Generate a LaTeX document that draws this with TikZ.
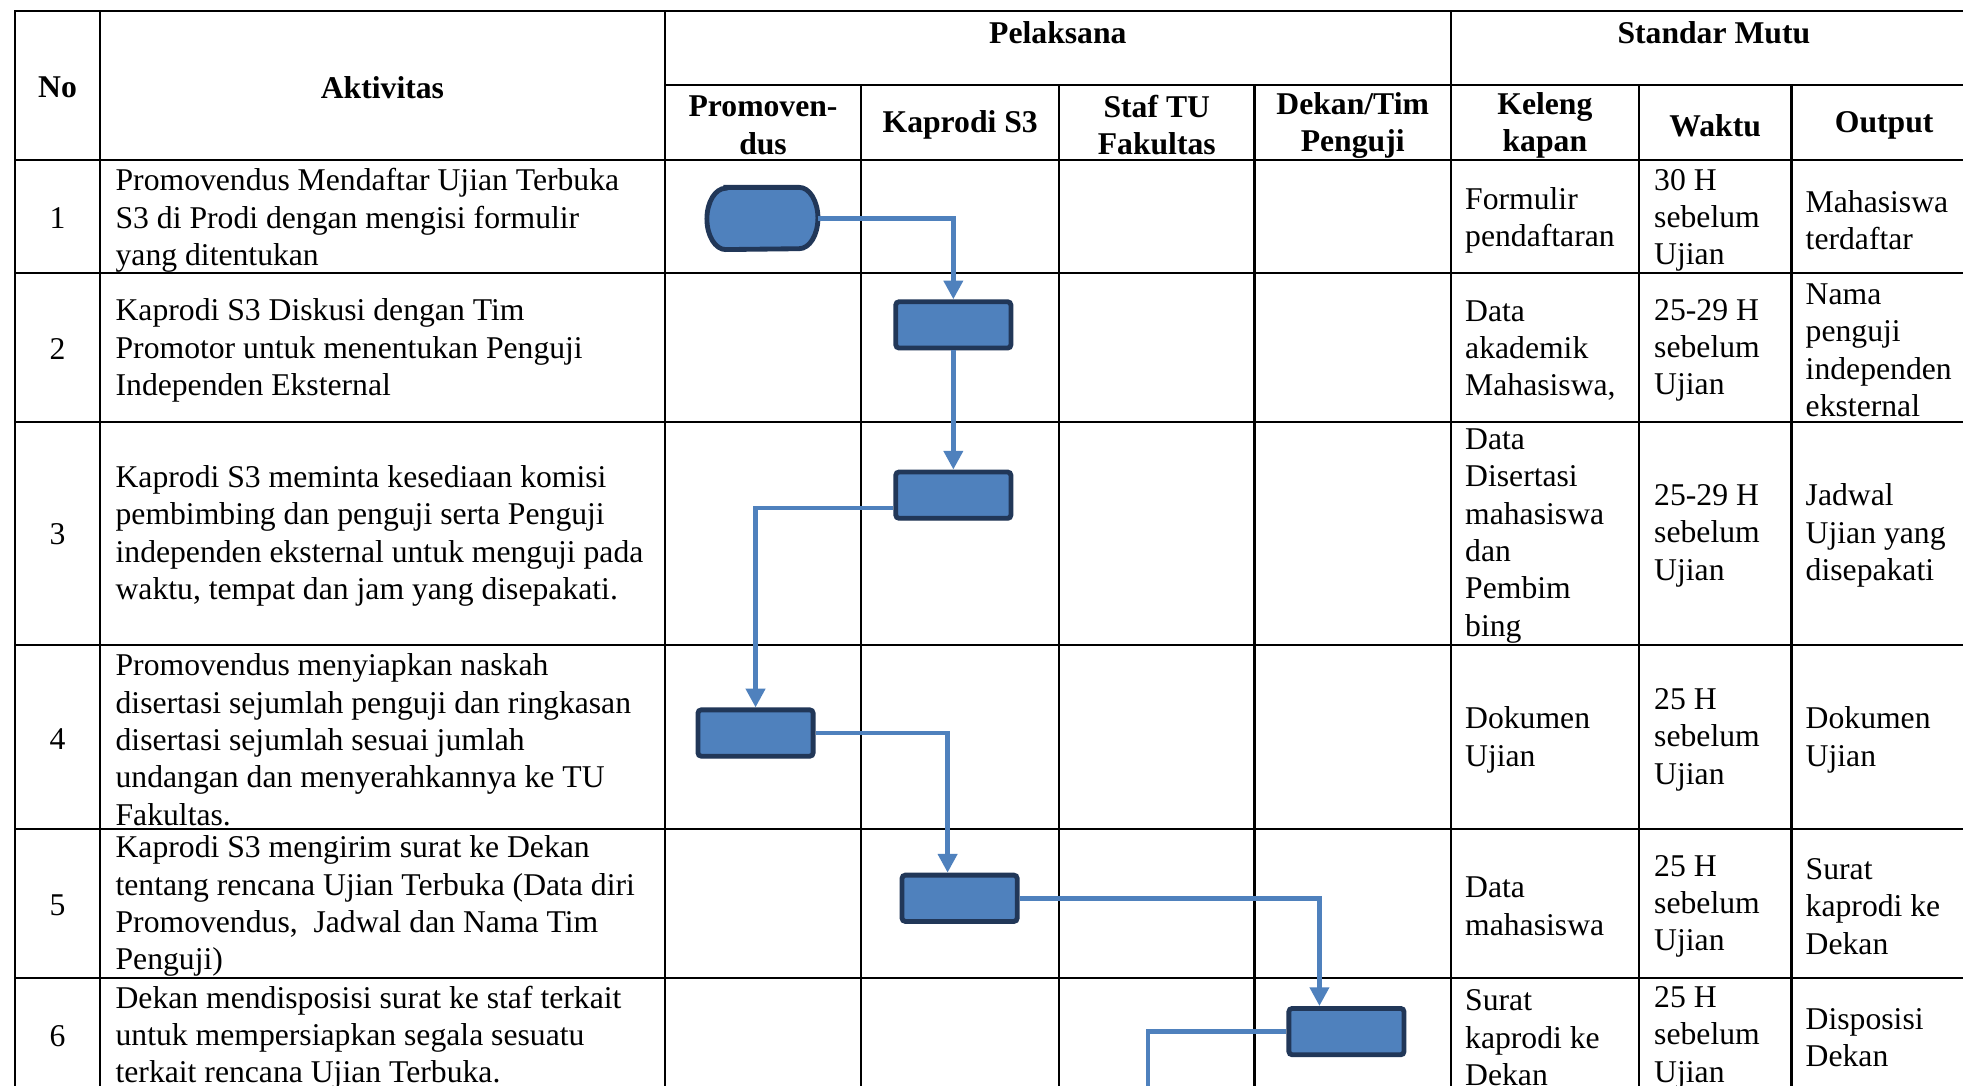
\documentclass[tikz,border=0pt]{standalone}
\usepackage{fontspec}
\setmainfont{Liberation Serif}
\usetikzlibrary{arrows.meta, calc, shadows}
\definecolor{flowc}{RGB}{79,129,189}
\definecolor{edgec}{RGB}{33,55,88}
\definecolor{inkc}{RGB}{0,0,0}
\tikzset{
  tline/.style={draw=inkc, line width=1pt, line cap=rect},
  txt/.style={font=\fontsize{14.4}{17}\selectfont, text=inkc, inner sep=0pt,
              align=left, anchor=west, yshift=-1.1pt},
  hdr/.style={font=\fontsize{14.4}{17}\selectfont\bfseries, text=inkc,
              inner sep=0pt, align=center, yshift=-0.6pt},
  rownum/.style={font=\fontsize{14.4}{17}\selectfont, text=inkc, inner sep=0pt},
  stepbox/.style={rectangle, rounded corners=1.5pt, draw=edgec, line width=2.2pt,
                  fill=flowc, minimum width=1.84cm, minimum height=0.74cm, inner sep=0pt,
                  drop shadow={shadow xshift=0.8pt, shadow yshift=-1pt, opacity=0.25}},
  termshape/.style={draw=edgec, line width=2.2pt, fill=flowc},
  flow/.style={draw=flowc, line width=2.2pt, -{Triangle[length=8.5pt, width=8.5pt]}},
}

\begin{document}
\begin{tikzpicture}[x=0.02cm, y=-0.02cm]

  \useasboundingbox (0,0) rectangle (1568,867);
  \fill[white] (0,0) rectangle (1568,867);
  \clip (0,0) rectangle (1568,867);

  % table rules
  \draw[tline] (12,9) -- (1579,9);
  \draw[tline] (531,68) -- (1579,68);
  \foreach \y in {128,218,337,515,662,781}
    \draw[tline] (12,\y) -- (1579,\y);
  \foreach \x in {12,80,531,1159}
    \draw[tline] (\x,9) -- (\x,880);
  \foreach \x in {688,846,1002,1309,1431}
    \draw[tline] (\x,68) -- (\x,880);

  % headers
  \node[hdr] (hno) at (46,69) {No};
  \node[hdr] (hakt) at (305.5,69) {Aktivitas};
  \node[hdr] (hpel) at (845,25) {Pelaksana};
  \node[hdr] (hstd) at (1369,25) {Standar Mutu};
  \node[hdr] (hpro) at (609.5,99) {Promoven-\\dus};
  \node[hdr] (hkap) at (767,99) {Kaprodi S3};
  \node[hdr] (hstaf) at (924,99) {Staf TU\\Fakultas};
  \node[hdr] (hdek) at (1080.5,99) {Dekan/Tim\\Penguji};
  \node[hdr] (hkel) at (1234,99) {Keleng\\kapan};
  \node[hdr] (hwak) at (1370,99) {Waktu};
  \node[hdr] (hout) at (1505,99) {Output};

  % row numbers
  \node[rownum] (n1) at (46,174) {1};
  \node[rownum] (n2) at (46,279) {2};
  \node[rownum] (n3) at (46,427) {3};
  \node[rownum] (n4) at (46,590) {4};
  \node[rownum] (n5) at (46,723) {5};
  \node[rownum] (n6) at (46,828) {6};

  % activities
  \node[txt] (a1) at (92,174) {Promovendus Mendaftar Ujian Terbuka\\S3 di Prodi dengan mengisi formulir\\yang ditentukan};
  \node[txt] (a2) at (92,278) {Kaprodi S3 Diskusi dengan Tim\\Promotor untuk menentukan Penguji\\Independen Eksternal};
  \node[txt] (a3) at (92,426) {Kaprodi S3 meminta kesediaan komisi\\pembimbing dan penguji serta Penguji\\independen eksternal untuk menguji pada\\waktu, tempat dan jam yang disepakati.};
  \node[txt] (a4) at (92,589) {Promovendus menyiapkan naskah\\disertasi sejumlah penguji dan ringkasan\\disertasi sejumlah sesuai jumlah\\undangan dan menyerahkannya ke TU\\Fakultas.};
  \node[txt] (a5) at (92,722) {Kaprodi S3 mengirim surat ke Dekan\\tentang rencana Ujian Terbuka (Data diri\\Promovendus,~ Jadwal dan Nama Tim\\Penguji)};
  \node[txt] (a6) at (92,827) {Dekan mendisposisi surat ke staf terkait\\untuk mempersiapkan segala sesuatu\\terkait rencana Ujian Terbuka.};

  % quality standard
  \node[txt] (k1) at (1170,174) {Formulir\\pendaftaran};
  \node[txt] (w1) at (1321,174) {30 H\\sebelum\\Ujian};
  \node[txt] (o1) at (1442,174) {Mahasiswa\\terdaftar};
  \node[txt] (k2) at (1170,278) {Data\\akademik\\Mahasiswa,};
  \node[txt] (w2) at (1321,278) {25-29 H\\sebelum\\Ujian};
  \node[txt] (o2) at (1442,278) {Nama\\penguji\\independen\\eksternal};
  \node[txt] (k3) at (1170,426) {Data\\Disertasi\\mahasiswa\\dan\\Pembim\\bing};
  \node[txt] (w3) at (1321,426) {25-29 H\\sebelum\\Ujian};
  \node[txt] (o3) at (1442,426) {Jadwal\\Ujian yang\\disepakati};
  \node[txt] (k4) at (1170,589) {Dokumen\\Ujian};
  \node[txt] (w4) at (1321,589) {25 H\\sebelum\\Ujian};
  \node[txt] (o4) at (1442,589) {Dokumen\\Ujian};
  \node[txt] (k5) at (1170,722) {Data\\mahasiswa};
  \node[txt] (w5) at (1321,722) {25 H\\sebelum\\Ujian};
  \node[txt] (o5) at (1442,722) {Surat\\kaprodi ke\\Dekan};
  \node[txt] (k6) at (1170,827) {Surat\\kaprodi ke\\Dekan};
  \node[txt] (w6) at (1321,827) {25 H\\sebelum\\Ujian};
  \node[txt] (o6) at (1442,827) {Disposisi\\Dekan};

  % flow shapes
  \node[rectangle, minimum width=1.76cm, minimum height=0.98cm, inner sep=0pt] (t1) at (609,174.5) {};
  \draw[termshape] ([xshift=0.3cm]t1.north west) -- ([xshift=-0.3cm]t1.north east)
    arc[start angle=90, end angle=-90, x radius=0.3cm, y radius=0.49cm]
    -- ([xshift=0.3cm]t1.south west)
    arc[start angle=270, end angle=90, x radius=0.3cm, y radius=0.49cm] -- cycle;
  \node[stepbox] (b2) at (761.5,259.5) {};
  \node[stepbox] (b3) at (761.5,395.5) {};
  \node[stepbox] (b4) at (603.5,585.5) {};
  \node[stepbox] (b5) at (766.5,717.5) {};
  \node[stepbox] (b6) at (1075.5,824) {};
  \coordinate (c6end) at (917,900);

  % connectors
  \draw[flow] (t1.east) -| (b2.north);
  \draw[flow] (b2.south) -- (b3.north);
  \draw[flow] ($(b3.west)!0.5!(b3.south west)$) -| (b4.north);
  \draw[flow] (b4.east) -| ($(b5.north)!0.2!(b5.north west)$);
  \draw[flow] (b5.east) -| ($(b6.north)!0.45!(b6.north west)$);
  \draw[flow] (b6.west) -| (c6end);

\end{tikzpicture}
\end{document}
